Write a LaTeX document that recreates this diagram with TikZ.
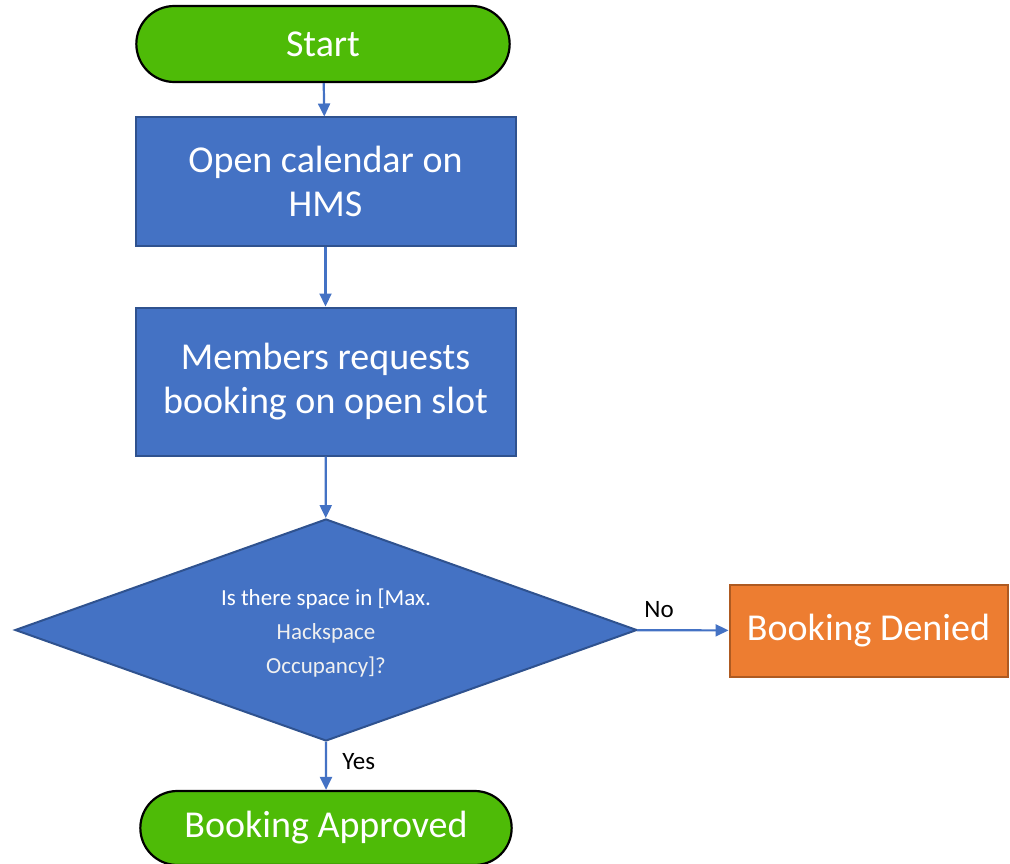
\documentclass[tikz,border=0pt]{standalone}
\usepackage{fontspec}
\setmainfont{Carlito}
\usetikzlibrary{shapes.geometric, shapes.misc, arrows.meta, positioning}

\definecolor{flowblue}{HTML}{4472C4}
\definecolor{flowblueline}{HTML}{2F528F}
\definecolor{flowgreen}{HTML}{4EBB07}
\definecolor{floworange}{HTML}{ED7D31}
\definecolor{floworangeline}{HTML}{AE5A21}

\begin{document}
\begin{tikzpicture}[x=1pt, y=-1pt,
  terminal/.style={rounded rectangle, draw=black, fill=flowgreen, line width=2.2pt,
    text=white, font=\fontsize{38}{44}\selectfont, minimum height=76},
  process/.style={rectangle, draw=flowblueline, fill=flowblue, line width=2pt,
    text=white, align=center, font=\fontsize{38}{44}\selectfont,
    minimum width=380, minimum height=128},
  decision/.style={diamond, aspect=2.8, draw=flowblueline, fill=flowblue, line width=2pt,
    text=white, align=center, font=\fontsize{23}{34}\selectfont,
    minimum width=622, minimum height=222, inner sep=0pt},
  outcome/.style={rectangle, draw=floworangeline, fill=floworange, line width=2pt,
    text=white, font=\fontsize{38}{44}\selectfont,
    minimum width=278, minimum height=92},
  flow/.style={draw=flowblue, line width=2.2pt, -{Triangle[length=13pt, width=12pt]}},
  answer/.style={font=\fontsize{25}{30}\selectfont, text=black}]

  \useasboundingbox (0,0) rectangle (1010,864);

  \node[terminal, minimum width=380] (start) at (323,44) {Start};
  \node[process] (calendar) at (325.5,181.5) {Open calendar on\\HMS};
  \node[process, minimum height=148] (request) at (325.5,381.5) {Members requests\\booking on open slot};
  \node[decision] (space) at (326,630) {};
  \node[text=white, align=center, font=\fontsize{23}{34}\selectfont] (question) at (326,633)
    {Is there space in [Max.\\
    \textcolor{white!88!gray}{Hackspace}\\\textcolor{white!88!gray}{Occupancy]?}};
  \node[outcome] (denied) at (868.5,630.5) {Booking Denied};
  \node[terminal, minimum width=378, minimum height=74] (approved) at (326,828) {Booking Approved};

  \draw[flow] (start) -- (calendar);
  \draw[flow] (calendar) -- (request);
  \draw[flow] (request) -- (space);
  \draw[flow] (space) -- node[answer, right, pos=0.4, xshift=12pt]{Yes} (approved);
  \draw[flow] (space) -- node[answer, above, pos=0.24, yshift=8pt]{No} (denied);
\end{tikzpicture}
\end{document}
